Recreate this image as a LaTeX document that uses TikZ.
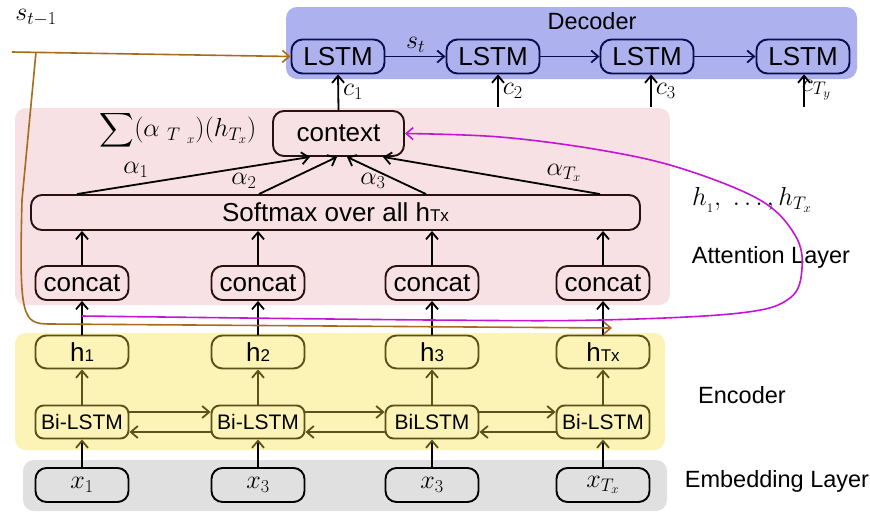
\documentclass[tikz,border=0pt]{standalone}
\usepackage{fix-cm}
\usepackage{fontspec}
\setmainfont{Liberation Sans}
\usetikzlibrary{arrows.meta}
\definecolor{decfill}{HTML}{ADB2EE}
\definecolor{attfill}{HTML}{F7E1E4}
\definecolor{encfill}{HTML}{FBF4B6}
\definecolor{embfill}{HTML}{E0E0E0}
\definecolor{navyline}{HTML}{0B0B50}
\definecolor{oliveline}{HTML}{5A5216}
\definecolor{concatline}{HTML}{2A1010}
\definecolor{brownline}{HTML}{A86A1E}
\definecolor{magline}{HTML}{C414D4}
\newcommand{\bigfont}{\fontsize{26}{30}\selectfont}
\newcommand{\lblfont}{\fontsize{23.5}{28}\selectfont}
\newcommand{\subfont}{\fontsize{17}{20}\selectfont}
\newcommand{\bigsum}{\vcenter{\hbox{\scalebox{2.4}{$\displaystyle\sum$}}}}
\begin{document}
\begin{tikzpicture}[x=1pt,y=-1pt,
  line width=1.8pt,
  >={Straight Barb[length=7pt,width=12pt]},
  panel/.style={rounded corners=11pt},
  rbox/.style={draw, rounded corners=11pt, line width=1.9pt, inner sep=0pt,
    minimum width=93pt, minimum height=34pt, font=\bigfont},
  dec/.style={rbox, draw=navyline},
  att/.style={rbox, draw=concatline},
  enc/.style={rbox, draw=oliveline},
  bienc/.style={enc, font=\fontsize{21}{25}\selectfont, rounded corners=8pt, minimum height=33pt},
  emb/.style={rbox, draw=black},
  side/.style={font=\lblfont, inner sep=0pt},
  mathlbl/.style={font=\bigfont, inner sep=0pt}
]
\useasboundingbox (0,0) rectangle (870,512);

% layer panels
\fill[decfill, panel] (286,7) rectangle (857,79);
\fill[attfill, panel] (15,108) rectangle (670,305);
\fill[encfill, panel] (15,333) rectangle (665,450);
\fill[embfill, panel] (23,460) rectangle (667,511);

% decoder
\node[side] (dectitle) at (592,21) {Decoder};
\node[dec] (d1) at (338,56.5) {LSTM};
\node[dec] (d2) at (493,56.5) {LSTM};
\node[dec] (d3) at (647,56.5) {LSTM};
\node[dec] (d4) at (803,56.5) {LSTM};

% attention
\node[att, minimum width=131pt, minimum height=45pt] (ctx) at (338.5,133.5) {context};
\node[att, minimum width=609pt, minimum height=35pt] (soft) at (335.5,212.5) {Softmax over all h{\subfont Tx}};
\node[att] (cc1) at (82,283) {concat};
\node[att] (cc2) at (258,283) {concat};
\node[att] (cc3) at (432,283) {concat};
\node[att] (cc4) at (603,283) {concat};

% encoder
\node[enc, minimum height=33pt] (h1) at (82,352) {h{\subfont 1}};
\node[enc, minimum height=33pt] (h2) at (258,352) {h{\subfont 2}};
\node[enc, minimum height=33pt] (h3) at (432,352) {h{\subfont 3}};
\node[enc, minimum height=33pt] (h4) at (603,352) {h{\subfont Tx}};
\node[bienc] (b1) at (82,422) {Bi-LSTM};
\node[bienc] (b2) at (258,422) {Bi-LSTM};
\node[bienc] (b3) at (432,422) {BiLSTM};
\node[bienc] (b4) at (603,422) {Bi-LSTM};

% embeddings
\node[emb] (x1) at (82,485) {$x_1$};
\node[emb] (x2) at (258,485) {$x_3$};
\node[emb] (x3) at (432,485) {$x_3$};
\node[emb] (x4) at (603,485) {$x_{T_x}$};

% side labels
\node[side] (lblatt) at (771,257) {Attention Layer};
\node[side] (lblenc) at (742,395) {Encoder};
\node[side] (lblemb) at (777,481) {Embedding Layer};
\node[mathlbl] (hlist) at (752,200) {$h_{_1},\ \ldots,h_{T_x}$};
\node[mathlbl] (sprev) at (36,18) {$s_{t-1}$};
\node[mathlbl] (sumlbl) at (178,130) {$\bigsum(\alpha\ _{T\ _x})(h_{T_x})$};

% decoder recurrence
\draw[->, navyline] (d1) -- (d2) node[midway, above=3pt, mathlbl, text=black] {$s_t$};
\draw[->, navyline] (d2) -- (d3);
\draw[->, navyline] (d3) -- (d4);

% context vectors into the decoder
\draw[->] (ctx.north) -- (d1.south) node[midway, right=4pt, mathlbl] {$c_1$};
\coordinate (c2s) at (498,107);
\coordinate (c3s) at (651,107);
\coordinate (c4s) at (804,107);
\draw[->] (c2s) -- (c2s |- d2.south) node[midway, right=4pt, mathlbl] {$c_2$};
\draw[->] (c3s) -- (c3s |- d3.south) node[midway, right=4pt, mathlbl] {$c_3$};
\draw[->] (c4s) -- (c4s |- d4.south);
\node[mathlbl, anchor=west] (cty) at (801,90) {$c_{T_y}$};

% attention weights
\draw[->] ([xshift=-258.5pt]soft.north) -- ([xshift=-28.5pt]ctx.south);
\draw[->] ([xshift=-76.5pt]soft.north) -- ([xshift=-1.5pt]ctx.south);
\draw[->] ([xshift=90.5pt]soft.north) -- ([xshift=8.5pt]ctx.south);
\draw[->] ([xshift=264.5pt]soft.north) -- ([xshift=44.5pt]ctx.south);
\node[mathlbl] (al1) at (136,170) {$\alpha_1$};
\node[mathlbl] (al2) at (244,181) {$\alpha_2$};
\node[mathlbl] (al3) at (373,181) {$\alpha_3$};
\node[mathlbl] (al4) at (564,173) {$\alpha_{T_x}$};

% concat -> softmax, h -> concat, encoder stack
\foreach \i in {1,2,3,4}{
  \draw[->] (cc\i) -- (cc\i |- soft.south);
  \draw[->] (h\i) -- (cc\i);
  \draw[->, oliveline] (b\i) -- (h\i);
  \draw[-{Straight Barb[length=7pt,width=12pt,color=oliveline]}] (x\i) -- (b\i);
}

% bidirectional links
\foreach \a/\b in {b1/b2,b2/b3,b3/b4}{
  \draw[->, oliveline] ([yshift=10pt]\a.east) -- ([yshift=10pt]\b.west);
  \draw[->, oliveline] ([yshift=-10pt]\b.west) -- ([yshift=-10pt]\a.east);
}

% previous decoder state
\coordinate (sstart) at (12,52);
\coordinate (sbranch) at (36,52);
\coordinate (send) at (612,328);
\draw[->, brownline, line width=1.6pt] (sstart) -- (d1.west);
\draw[->, brownline, line width=1.6pt] (sbranch) -- (22,200)
  .. controls (19,318) and (22,324) .. (50,324) -- (send);

% encoder states fed back to the context
\coordinate (mstart) at (82,316);
\draw[->, magline, line width=1.6pt] plot[smooth, tension=0.6] coordinates
  {(mstart) (430,320) (600,320) (740,313) (790,298) (802,268) (795,235)
   (760,200) (680,168) (600,150) (500,137) (ctx.east)};
\end{tikzpicture}
\end{document}
